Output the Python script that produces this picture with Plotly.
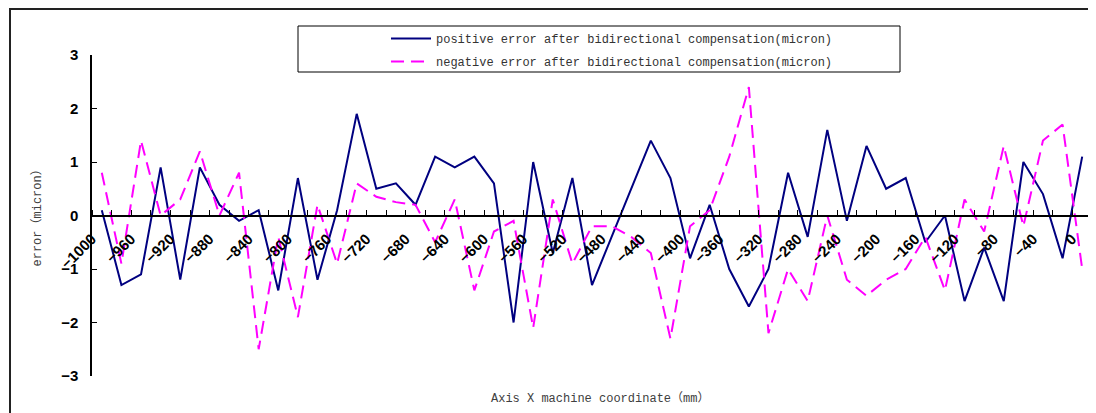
import plotly.graph_objects as go

# X machine coordinate (mm), one point every 20 mm
coord = list(range(-1000, 1, 20))

positive_error = [0.1, -1.3, -1.1, 0.9, -1.2, 0.9, 0.2, -0.1, 0.1, -1.4,
                  0.7, -1.2, 0.1, 1.9, 0.5, 0.6, 0.2, 1.1, 0.9, 1.1,
                  0.6, -2.0, 1.0, -0.7, 0.7, -1.3, -0.4, 0.5, 1.4, 0.7,
                  -0.8, 0.2, -1.0, -1.7, -1.0, 0.8, -0.4, 1.6, -0.1, 1.3,
                  0.5, 0.7, -0.5, 0.0, -1.6, -0.6, -1.6, 1.0, 0.4, -0.8, 1.1]

negative_error = [0.8, -0.9, 1.4, 0.0, 0.3, 1.2, 0.0, 0.8, -2.5, -0.4,
                  -1.9, 0.2, -0.9, 0.6, 0.35, 0.25, 0.2, -0.5, 0.3, -1.4,
                  -0.3, -0.1, -2.1, 0.3, -0.9, -0.2, -0.2, -0.4, -0.7, -2.3,
                  -0.2, 0.1, 1.1, 2.4, -2.2, -1.0, -1.6, 0.0, -1.2, -1.5,
                  -1.2, -1.0, -0.4, -1.4, 0.3, -0.3, 1.3, -0.2, 1.4, 1.7, -1.0]

label_vals = coord[::2]
y_ticks = [-3, -2, -1, 0, 1, 2, 3]

names = ["positive error after bidirectional compensation(micron)",
         "negative error after bidirectional compensation(micron)"]

MONO = "Liberation Mono, Noto Sans CJK SC, monospace"


def py(Y):
    # reference pixel row -> paper fraction of the plot area
    return (376 - Y) / 321


def px(X):
    return (X - 92) / 1000


fig = go.Figure()
fig.add_trace(go.Scatter(x=coord, y=positive_error, mode="lines", name=names[0],
                         line=dict(color="#000080", width=2), legendgroup="a"))
fig.add_trace(go.Scatter(x=coord, y=negative_error, mode="lines", name=names[1],
                         line=dict(color="#FF00FF", width=2, dash="13px,7px"), legendgroup="b"))

fig.update_layout(
    width=1088, height=405,
    margin=dict(l=84, r=4, t=47, b=37, autoexpand=False),
    plot_bgcolor="white", paper_bgcolor="white",
    showlegend=True,
    legend=dict(x=px(386), xanchor="left", y=py(24), yanchor="top",
                bgcolor="rgba(0,0,0,0)", borderwidth=0, traceorder="grouped",
                tracegroupgap=4, itemwidth=40,
                font=dict(family=MONO, size=12, color="#333333")),
    xaxis=dict(range=[-1010, 10], anchor="free", position=0.5,
               showline=True, linecolor="black", linewidth=1.5,
               showgrid=False, zeroline=False,
               tickmode="array", tickvals=label_vals, ticks="",
               tickangle=-45, ticklabelstandoff=8, ticklabelshift=-10,
               tickfont=dict(family="Liberation Sans, Arial", size=15, color="black", weight="bold"),
               minor=dict(tickmode="linear", tick0=-1010, dtick=20, ticks="inside",
                          ticklen=5, tickcolor="black", tickwidth=1, showgrid=False)),
    yaxis=dict(range=[-3, 3], showline=True, linecolor="black", linewidth=1.5,
               showgrid=False, zeroline=False,
               tickmode="array", tickvals=y_ticks, ticks="inside", ticklen=5,
               tickcolor="black", ticklabelstandoff=9,
               tickfont=dict(family="Liberation Sans, Arial", size=15, color="black", weight="bold")),
    shapes=[
        dict(type="rect", xref="paper", yref="paper",
             x0=px(10), x1=1.2, y0=-0.5, y1=py(9),
             line=dict(color="#222222", width=2)),
        dict(type="rect", xref="paper", yref="paper",
             x0=px(298), x1=px(900), y0=py(72), y1=py(26),
             line=dict(color="black", width=1)),
    ],
    annotations=[
        dict(text="Axis X machine coordinate（mm）", xref="paper", yref="paper",
             x=px(600), y=py(398), showarrow=False,
             xanchor="center", yanchor="middle",
             font=dict(family=MONO, size=12, color="#404040")),
        dict(text="error（micron）", xref="paper", yref="paper",
             x=px(37), y=0.5, showarrow=False, textangle=-90,
             xanchor="center", yanchor="middle",
             font=dict(family=MONO, size=12, color="#404040")),
    ],
)

fig.write_html("out.html")
